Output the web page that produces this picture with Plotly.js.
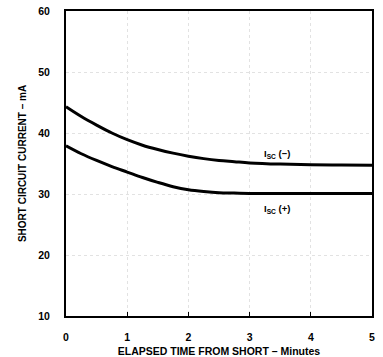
<!DOCTYPE html>
<html>
<head>
<meta charset="utf-8">
<script src="https://cdn.plot.ly/plotly-3.0.1.min.js"></script>
<style>html,body{margin:0;padding:0;background:#fff;}#chart{width:383px;height:357px;}</style>
</head>
<body>
<div id="chart"></div>
<script>
const timeMin = [0, 0.25, 0.5, 0.75, 1, 1.25, 1.5, 1.75, 2, 2.25, 2.5, 2.75, 3, 3.5, 4, 4.5, 5];
const iscMinus = [44.3, 42.7, 41.3, 40.0, 38.9, 38.0, 37.3, 36.7, 36.2, 35.8, 35.5, 35.3, 35.1, 34.9, 34.8, 34.75, 34.7];
const iscPlus  = [37.9, 36.6, 35.5, 34.5, 33.6, 32.7, 31.9, 31.2, 30.7, 30.4, 30.2, 30.15, 30.1, 30.1, 30.1, 30.1, 30.1];
const labelText = ["I<sub>SC</sub> (−)", "I<sub>SC</sub> (+)"];
const labelX = [3.45, 3.45];
const labelY = [36.6, 27.5];
const xTicks = [0, 1, 2, 3, 4, 5];
const yTicks = [10, 20, 30, 40, 50, 60];

const FONT = "Liberation Sans, Arial, sans-serif";
const line = {color: "#000", width: 3, shape: "spline", smoothing: 1};
const traces = [
  {x: timeMin, y: iscMinus, mode: "lines", line: line, hoverinfo: "none"},
  {x: timeMin, y: iscPlus, mode: "lines", line: line, hoverinfo: "none"}
];
const annotations = labelText.map((t, i) => ({
  x: labelX[i], y: labelY[i], text: "<b>" + t + "</b>", showarrow: false,
  font: {family: FONT, size: 9.5, color: "#000"}
}));
const layout = {
  width: 383, height: 357,
  margin: {l: 66, r: 11, t: 11, b: 41},
  paper_bgcolor: "#fff", plot_bgcolor: "#fff",
  showlegend: false,
  font: {family: FONT, color: "#000"},
  xaxis: {
    range: [0, 5], tickvals: xTicks, ticktext: xTicks.map(v => "<b>" + v + "</b>"),
    showline: true, linecolor: "#000", linewidth: 2, mirror: true,
    ticks: "inside", ticklen: 4, tickwidth: 1, tickcolor: "#000",
    showgrid: true, gridcolor: "#e2e2e2", griddash: "dot", gridwidth: 1,
    zeroline: false, ticklabelstandoff: 10,
    tickfont: {family: FONT, size: 10.5, color: "#000"},
    title: {text: "<b>ELAPSED TIME FROM SHORT – Minutes</b>", font: {family: FONT, size: 10.5, color: "#000"}, standoff: 6}
  },
  yaxis: {
    range: [10, 60], tickvals: yTicks, ticktext: yTicks.map(v => "<b>" + v + "</b>"),
    showline: true, linecolor: "#000", linewidth: 2, mirror: true,
    ticks: "", showgrid: true, gridcolor: "#e2e2e2", griddash: "dot", gridwidth: 1,
    zeroline: false, ticklabelstandoff: 12,
    tickfont: {family: FONT, size: 10.5, color: "#000"},
    title: {text: "<b>SHORT CIRCUIT CURRENT – mA</b>", font: {family: FONT, size: 10, color: "#000"}, standoff: 10}
  },
  annotations: annotations
};
Plotly.newPlot("chart", traces, layout, {staticPlot: true, displayModeBar: false});
</script>
</body>
</html>
